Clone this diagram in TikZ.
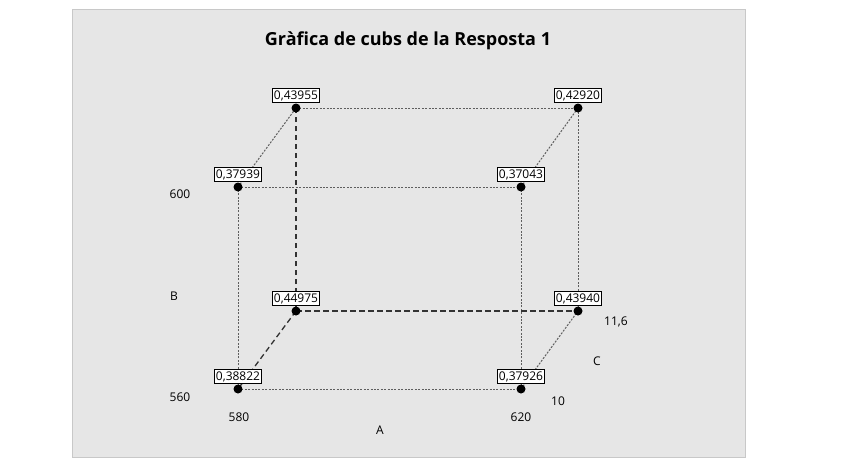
\documentclass[tikz,border=0pt]{standalone}
\usepackage{fontspec}
\setmainfont{Open Sans}
\usetikzlibrary{positioning}

\definecolor{panelgray}{HTML}{E6E6E6}
\definecolor{framegray}{HTML}{C8C8C8}
\definecolor{edgegray}{HTML}{5E5E5E}

\tikzset{
  valuebox/.style={draw=black, fill=white, line width=0.9pt, inner xsep=1.5pt, inner ysep=2.3pt,
    font=\fontsize{12}{14}\selectfont},
  axislabel/.style={font=\fontsize{12}{14}\selectfont, inner sep=0pt},
  frontedge/.style={draw=edgegray, line width=1pt, dash pattern=on 2pt off 1.4pt},
  hiddenedge/.style={draw=black!80, line width=1.3pt, dash pattern=on 5.5pt off 3.5pt},
  corner/.style={circle, fill=black, inner sep=0pt, minimum size=9pt},
}

\begin{document}
\begin{tikzpicture}[x=1pt, y=-1pt]

    \useasboundingbox (0,0) rectangle (858,467);

    % 绘制灰色背景
    \filldraw[fill=panelgray, draw=framegray, line width=1pt] (72,9) rectangle (745,457);

    % 标题
    \node[font=\fontsize{18}{21}\selectfont\bfseries] (title) at (408,41) {Gràfica de cubs de la Resposta 1};

    % 立方体的八个顶点 (A, B, C)
    \coordinate (p000) at (238,389); % A=580, B=560, C=10
    \coordinate (p100) at (521,389); % A=620, B=560, C=10
    \coordinate (p010) at (238,187); % A=580, B=600, C=10
    \coordinate (p110) at (521,187); % A=620, B=600, C=10
    \coordinate (p001) at (296,311); % A=580, B=560, C=11,6
    \coordinate (p101) at (578,311); % A=620, B=560, C=11,6
    \coordinate (p011) at (296,108); % A=580, B=600, C=11,6
    \coordinate (p111) at (578,108); % A=620, B=600, C=11,6

    % 绘制可见的棱 (细点线)
    \draw[frontedge] (p000) -- (p100);
    \draw[frontedge] (p010) -- (p110);
    \draw[frontedge] (p000) -- (p010);
    \draw[frontedge] (p100) -- (p110);
    \draw[frontedge] (p011) -- (p111);
    \draw[frontedge] (p101) -- (p111);
    \draw[frontedge] (p010) -- (p011);
    \draw[frontedge] (p110) -- (p111);
    \draw[frontedge] (p100) -- (p101);

    % 绘制被遮挡的棱 (粗虚线)
    \draw[hiddenedge] (p001) -- (p011);
    \draw[hiddenedge] (p001) -- (p101);
    \draw[hiddenedge] (p001) -- (p000);

    % 顶点圆点
    \node[corner] (d000) at (p000) {};
    \node[corner] (d100) at (p100) {};
    \node[corner] (d010) at (p010) {};
    \node[corner] (d110) at (p110) {};
    \node[corner] (d001) at (p001) {};
    \node[corner] (d101) at (p101) {};
    \node[corner] (d011) at (p011) {};
    \node[corner] (d111) at (p111) {};

    % 数值标签
    \node[valuebox, above=0pt of d000] (v000) {0,38822};
    \node[valuebox, above=0pt of d100] (v100) {0,37926};
    \node[valuebox, above=0pt of d010] (v010) {0,37939};
    \node[valuebox, above=0pt of d110] (v110) {0,37043};
    \node[valuebox, above=0pt of d001] (v001) {0,44975};
    \node[valuebox, above=0pt of d101] (v101) {0,43940};
    \node[valuebox, above=0pt of d011] (v011) {0,43955};
    \node[valuebox, above=0pt of d111] (v111) {0,42920};

    % 坐标轴标签
    \node[axislabel] (b600) at (180,194) {600};
    \node[axislabel] (bname) at (174,296) {B};
    \node[axislabel] (b560) at (180,397) {560};
    \node[axislabel] (a580) at (239,417) {580};
    \node[axislabel] (aname) at (380,430) {A};
    \node[axislabel] (a620) at (521,417) {620};
    \node[axislabel] (c10) at (558,401) {10};
    \node[axislabel] (cname) at (597,361) {C};
    \node[axislabel] (c116) at (616,322) {11,6};

\end{tikzpicture}
\end{document}
